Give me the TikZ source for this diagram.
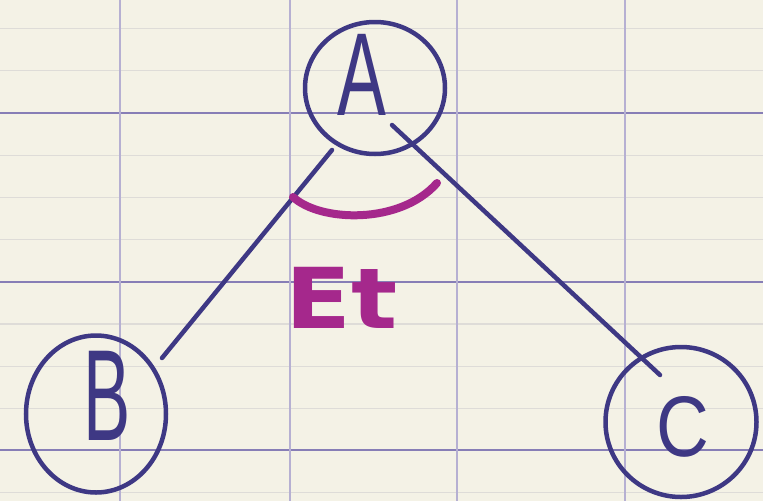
\documentclass[tikz,border=0pt]{standalone}
\usepackage{fontspec}
\usepackage{graphicx}
\setmainfont{Liberation Sans}
\newfontfamily\handfont{Liberation Sans}
\newfontfamily\boldfont{DejaVu Sans}
\usetikzlibrary{shapes.geometric}
\definecolor{paper}{RGB}{244,242,230}
\definecolor{ink}{RGB}{62,56,132}
\definecolor{pinkink}{RGB}{165,40,140}
\definecolor{majorline}{RGB}{135,126,182}
\definecolor{vline}{RGB}{182,176,210}
\definecolor{minorline}{RGB}{222,220,216}
\tikzset{
  inkcircle/.style={draw=ink, line width=4.5pt, ellipse, inner sep=0pt},
  letter/.style={text=ink, font=\handfont\fontsize{118}{118}\selectfont},
  edge/.style={draw=ink, line width=4.5pt, line cap=round},
  anglearc/.style={draw=pinkink, line width=8pt, line cap=round},
  minorrule/.style={draw=minorline, line width=1.2pt},
  majorrule/.style={draw=majorline, line width=2.6pt},
  vrule/.style={draw=vline, line width=1.8pt}
}
\begin{document}
\begin{tikzpicture}[x=1pt,y=-1pt]
\fill[paper] (0,0) rectangle (763,501);
\useasboundingbox (0,0) rectangle (763,501);
% minor horizontal rules
\foreach \k in {-2,-1,1,2,3,5,6,7,9} {
  \draw[minorrule] (0,113+42.2*\k) -- (763,113+42.2*\k);
}
% major horizontal rules
\foreach \yy in {113,282,450} {
  \draw[majorrule] (0,\yy) -- (763,\yy);
}
% vertical rules
\foreach \xx in {120,290,457,625} {
  \draw[vrule] (\xx,0) -- (\xx,501);
}
% nodes
\node[inkcircle, minimum width=140pt, minimum height=132pt,
  label={[letter, xshift=-13pt, yshift=13pt]center:\scalebox{0.62}[1]{A}}] (A) at (375,88) {};
\node[inkcircle, minimum width=140pt, minimum height=157pt,
  label={[letter, xshift=11pt, yshift=18pt]center:\scalebox{0.6}[1.1]{B}}] (B) at (96,414) {};
\node[inkcircle, minimum width=151pt, minimum height=150pt,
  label={[letter, xshift=2pt, yshift=-5pt, font=\handfont\fontsize{86}{86}\selectfont]center:\scalebox{0.85}[1]{C}}] (C) at (681,422) {};
% connectors
\draw[edge] ([shift={(-43pt,-62pt)}]A.center) -- ([shift={(66pt,56pt)}]B.center);
\draw[edge] ([shift={(17pt,-37pt)}]A.center) -- ([shift={(-21pt,47pt)}]C.center);
% angle arc
\draw[anglearc] (293,197) .. controls (320,222) and (400,225) .. (437,183);
\node[text=pinkink, font=\boldfont\bfseries\fontsize{84}{84}\selectfont] (Et) at (342,298) {\scalebox{1.15}[1]{Et}};
\end{tikzpicture}
\end{document}
